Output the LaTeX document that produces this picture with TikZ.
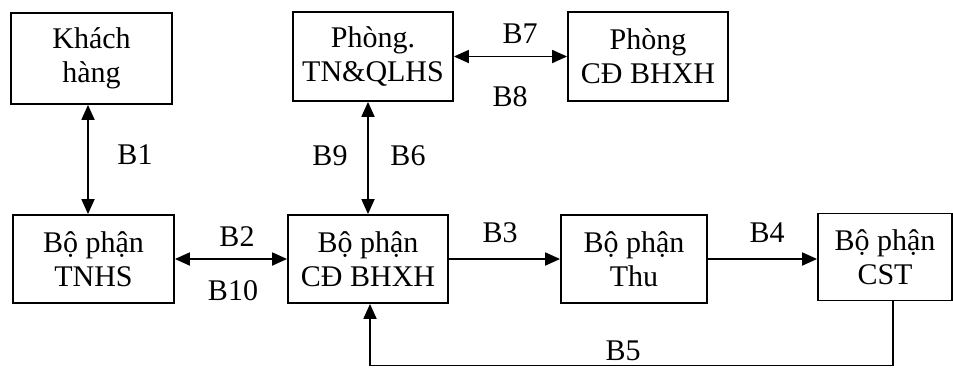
\documentclass[tikz,border=0pt]{standalone}
\usepackage{fontspec}
\setmainfont{Liberation Serif}
\usetikzlibrary{arrows.meta}
\begin{document}
\begin{tikzpicture}[x=1pt,y=-1pt,
  box/.style={draw,line width=1.8pt,inner sep=0pt,align=center,
    font=\fontsize{30}{34}\selectfont},
  conn/.style={line width=1.8pt,-{Triangle[length=15pt,width=13pt]}},
  dconn/.style={line width=1.8pt,{Triangle[length=15pt,width=13pt]}-{Triangle[length=15pt,width=13pt]}},
  lbl/.style={font=\fontsize{30}{34}\selectfont,inner sep=0pt}]
\useasboundingbox (0,0) rectangle (953,367);
\node[box,minimum width=161pt,minimum height=91pt] (kh) at (91.5,58.5) {Khách\\hàng};
\node[box,minimum width=160pt,minimum height=89pt] (tnql) at (373,56.5) {Phòng.\\TN\&QLHS};
\node[box,minimum width=160pt,minimum height=89pt] (pcd) at (648,56.5) {Phòng\\CĐ BHXH};
\node[box,minimum width=161pt,minimum height=88pt] (tnhs) at (93.5,259) {Bộ phận\\TNHS};
\node[box,minimum width=160pt,minimum height=88pt] (bcd) at (368,259) {Bộ phận\\CĐ BHXH};
\node[box,minimum width=146pt,minimum height=88pt] (thu) at (634,259) {Bộ phận\\Thu};
\node[box,minimum width=134pt,minimum height=87pt] (cst) at (885,257) {Bộ phận\\CST};
\coordinate (c1) at (893,365.5);
\coordinate (c2) at (370,365.5);
% connectors
\draw[dconn] (kh.south -| 88,0) -- (tnhs.north -| 88,0);
\draw[dconn] (tnql.south -| bcd.north) -- (bcd.north);
\draw[dconn] (tnql.east) -- (pcd.west);
\draw[dconn] (tnhs.east) -- (bcd.west);
\draw[conn] (bcd.east) -- (thu.west);
\draw[conn] (thu.east) -- (thu.east -| cst.west);
\draw[conn] (cst.south -| c1) -- (c1) -- (c2) -- (bcd.south -| c2);
% labels
\node[lbl] (l1) at (135,155) {B1};
\node[lbl] (l7) at (520,34) {B7};
\node[lbl] (l8) at (510,97) {B8};
\node[lbl] (l9) at (330,156) {B9};
\node[lbl] (l6) at (408,156) {B6};
\node[lbl] (l2) at (237,237) {B2};
\node[lbl] (l10) at (233,291) {B10};
\node[lbl] (l3) at (500,233) {B3};
\node[lbl] (l4) at (767,233) {B4};
\node[lbl] (l5) at (623,351) {B5};
\end{tikzpicture}
\end{document}
